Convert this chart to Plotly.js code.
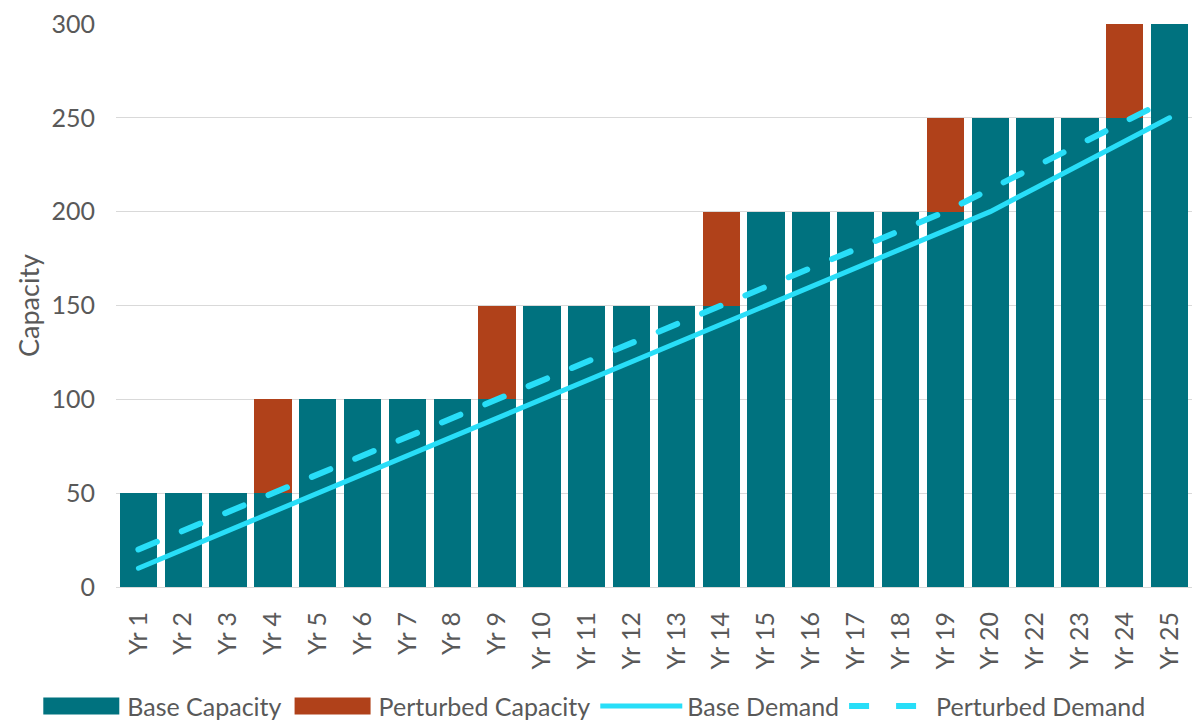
<!DOCTYPE html>
<html>
<head>
<meta charset="utf-8">
<script src="https://cdn.plot.ly/plotly-3.0.1.min.js"></script>
<style>
html,body{margin:0;padding:0;background:#fff;}
#chart{width:1192px;height:722px;}
.scatterlayer path.js-line{stroke-linecap:round;}
</style>
</head>
<body>
<div id="chart"></div>
<script>
const categories = ["Yr 1","Yr 2","Yr 3","Yr 4","Yr 5","Yr 6","Yr 7","Yr 8","Yr 9","Yr 10","Yr 11","Yr 12","Yr 13","Yr 14","Yr 15","Yr 16","Yr 17","Yr 18","Yr 19","Yr 20","Yr 22","Yr 23","Yr 24","Yr 25"];
const baseCapacity = [50,50,50,50,100,100,100,100,100,150,150,150,150,150,200,200,200,200,200,250,250,250,250,300];
const perturbedCapacity = [null,null,null,50,null,null,null,null,50,null,null,null,null,50,null,null,null,null,50,null,null,null,50,null];
const baseDemand = [10,20,30,40,50,60,70,80,90,100,110,120,130,140,150,160,170,180,190,200,212.5,225,237.5,250];
const perturbedDemand = [20,30,40,50,60,70,80,90,100,110,120,130,140,150,160,170,180,190,200,212,224,236,248,260];

const gray = '#595959';
const font = 'Lato, "Open Sans", sans-serif';

const traces = [
  {type:'bar', name:'Base Capacity', x:categories, y:baseCapacity, marker:{color:'#00727f'}},
  {type:'bar', name:'Perturbed Capacity', x:categories, y:perturbedCapacity, marker:{color:'#b0411a'}},
  {type:'scatter', mode:'lines', name:'Base Demand', x:categories, y:baseDemand, line:{color:'#28def8', width:5}},
  {type:'scatter', mode:'lines', name:'Perturbed Demand', x:categories, y:perturbedDemand, line:{color:'#28def8', width:6, dash:'20px,27px'}}
];

const layout = {
  width:1192, height:722,
  margin:{l:116, r:0, t:24, b:135, autoexpand:false},
  barmode:'stack', bargap:0.17,
  paper_bgcolor:'#fff', plot_bgcolor:'#fff',
  font:{family:font, color:gray, size:25},
  xaxis:{type:'category', tickmode:'array', tickvals:categories, ticktext:categories, tickangle:-90, tickfont:{size:25, color:gray}, showgrid:false, showline:true, linecolor:'#d9d9d9', ticks:'', automargin:false, ticklabelstandoff:14},
  yaxis:{range:[0,300], tickvals:[0,50,100,150,200,250,300], tickfont:{size:25, color:gray}, gridcolor:'#d9d9d9', gridwidth:1, zeroline:false, ticks:'', ticklen:0, automargin:false, ticklabelstandoff:20,
         title:{text:'Capacity', font:{size:27, color:gray}, standoff:4}},
  legend:{orientation:'h', x:-0.075, xanchor:'left', y:-0.212, yanchor:'middle', font:{size:25, color:gray}, itemwidth:82, traceorder:'normal'},
  showlegend:true
};

Plotly.newPlot('chart', traces, layout, {displayModeBar:false, staticPlot:true}).then(function(gd){
  gd.querySelectorAll('.legend g.legendpoints path.legendundefined, .legend g.legendpoints path.legendbar').forEach(function(p){
    p.setAttribute('d','M38,8.5H-38V-8.5H38Z');
  });
});
</script>
</body>
</html>
